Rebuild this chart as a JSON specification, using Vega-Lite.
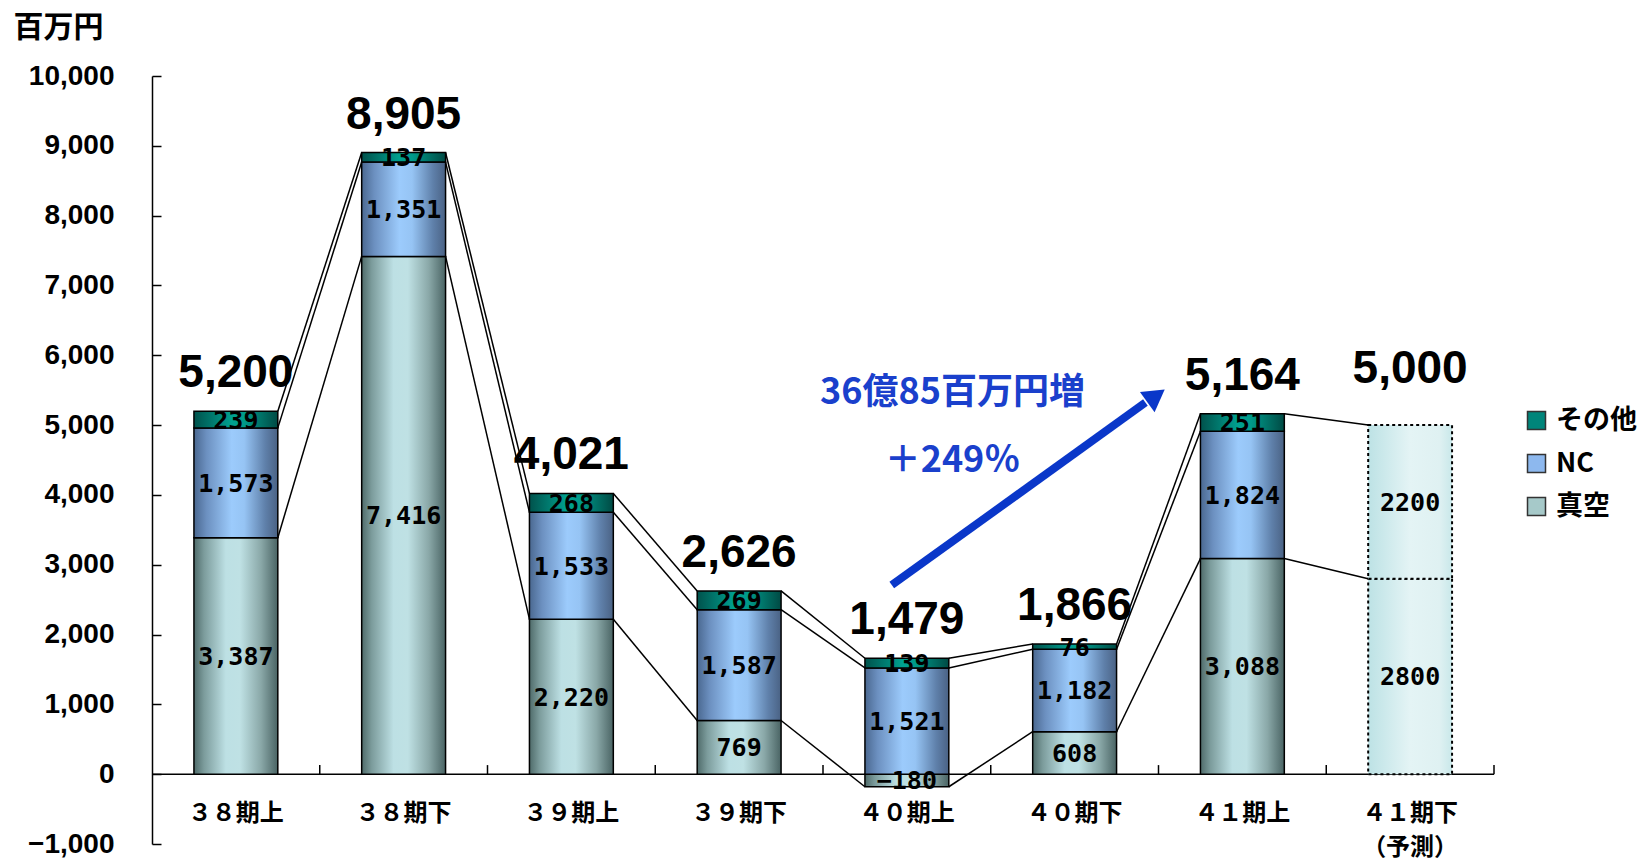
{
  "$schema": "https://vega.github.io/schema/vega-lite/v6.json",
  "width": 1342,
  "height": 768,
  "autosize": {"type": "none"},
  "padding": {"left": 152, "top": 76, "right": 158, "bottom": 19},
  "background": "white",
  "config": {
    "view": {"stroke": null},
    "axis": {"grid": false}
  },
  "datasets": {
    "bars": [
      {"period": "３８期上", "series": "真空", "value": 3387, "order": 1},
      {"period": "３８期上", "series": "NC", "value": 1573, "order": 2},
      {"period": "３８期上", "series": "その他", "value": 239, "order": 3},
      {"period": "３８期下", "series": "真空", "value": 7416, "order": 1},
      {"period": "３８期下", "series": "NC", "value": 1351, "order": 2},
      {"period": "３８期下", "series": "その他", "value": 137, "order": 3},
      {"period": "３９期上", "series": "真空", "value": 2220, "order": 1},
      {"period": "３９期上", "series": "NC", "value": 1533, "order": 2},
      {"period": "３９期上", "series": "その他", "value": 268, "order": 3},
      {"period": "３９期下", "series": "真空", "value": 769, "order": 1},
      {"period": "３９期下", "series": "NC", "value": 1587, "order": 2},
      {"period": "３９期下", "series": "その他", "value": 269, "order": 3},
      {"period": "４０期上", "series": "真空", "value": -180, "order": 1},
      {"period": "４０期上", "series": "NC", "value": 1521, "order": 2},
      {"period": "４０期上", "series": "その他", "value": 139, "order": 3},
      {"period": "４０期下", "series": "真空", "value": 608, "order": 1},
      {"period": "４０期下", "series": "NC", "value": 1182, "order": 2},
      {"period": "４０期下", "series": "その他", "value": 76, "order": 3},
      {"period": "４１期上", "series": "真空", "value": 3088, "order": 1},
      {"period": "４１期上", "series": "NC", "value": 1824, "order": 2},
      {"period": "４１期上", "series": "その他", "value": 251, "order": 3}
    ],
    "forecast": [
      {"period": "４１期下（予測）", "part": "真空予測", "value": 2800, "order": 1},
      {"period": "４１期下（予測）", "part": "NC他予測", "value": 2200, "order": 2}
    ],
    "totals": [
      {"period": "３８期上", "total": 5200},
      {"period": "３８期下", "total": 8905},
      {"period": "３９期上", "total": 4021},
      {"period": "３９期下", "total": 2626},
      {"period": "４０期上", "total": 1479},
      {"period": "４０期下", "total": 1866},
      {"period": "４１期上", "total": 5164}
    ],
    "links": [
      {"from": "３８期上", "to": "３８期下", "a": 3387, "b": 7416},
      {"from": "３８期上", "to": "３８期下", "a": 4960, "b": 8767},
      {"from": "３８期上", "to": "３８期下", "a": 5199, "b": 8904},
      {"from": "３８期下", "to": "３９期上", "a": 7416, "b": 2220},
      {"from": "３８期下", "to": "３９期上", "a": 8767, "b": 3753},
      {"from": "３８期下", "to": "３９期上", "a": 8904, "b": 4021},
      {"from": "３９期上", "to": "３９期下", "a": 2220, "b": 769},
      {"from": "３９期上", "to": "３９期下", "a": 3753, "b": 2356},
      {"from": "３９期上", "to": "３９期下", "a": 4021, "b": 2625},
      {"from": "３９期下", "to": "４０期上", "a": 769, "b": -180},
      {"from": "３９期下", "to": "４０期上", "a": 2356, "b": 1521},
      {"from": "３９期下", "to": "４０期上", "a": 2625, "b": 1660},
      {"from": "４０期上", "to": "４０期下", "a": -180, "b": 608},
      {"from": "４０期上", "to": "４０期下", "a": 1521, "b": 1790},
      {"from": "４０期上", "to": "４０期下", "a": 1660, "b": 1866},
      {"from": "４０期下", "to": "４１期上", "a": 608, "b": 3088},
      {"from": "４０期下", "to": "４１期上", "a": 1790, "b": 4912},
      {"from": "４０期下", "to": "４１期上", "a": 1866, "b": 5163},
      {"from": "４１期上", "to": "４１期下（予測）", "a": 3088, "b": 2800},
      {"from": "４１期上", "to": "４１期下（予測）", "a": 5163, "b": 5000}
    ],
    "cats": [
      {"period": "３８期上"}, {"period": "３８期下"}, {"period": "３９期上"}, {"period": "３９期下"},
      {"period": "４０期上"}, {"period": "４０期下"}, {"period": "４１期上"}, {"period": "４１期下（予測）"}
    ]
  },
  "layer": [
    {
      "data": {"name": "bars"},
      "mark": {"type": "bar"},
      "encoding": {
        "x": {
          "field": "period", "type": "nominal",
          "scale": {
            "domain": ["３８期上", "３８期下", "３９期上", "３９期下", "４０期上", "４０期下", "４１期上", "４１期下（予測）"],
            "paddingInner": 0.5, "paddingOuter": 0.25
          },
          "axis": {
            "title": null, "orient": "bottom", "offset": -70, "domain": false, "ticks": false,
            "labelAngle": 0, "labelFont": "Noto Sans CJK JP", "labelFontWeight": "bold", "labelFontSize": 24,
            "labelColor": "black", "labelPadding": 27, "labelLineHeight": 34,
            "labelExpr": "datum.value == '４１期下（予測）' ? ['４１期下', '（予測）'] : datum.label"
          }
        },
        "y": {
          "field": "value", "type": "quantitative", "stack": "zero",
          "scale": {"domain": [-1000, 10000], "nice": false, "zero": false},
          "axis": {
            "title": "百万円", "titleAngle": 0, "titleAlign": "left", "titleBaseline": "middle",
            "titleX": -139, "titleY": -49, "titleFont": "Noto Sans CJK JP", "titleFontSize": 30,
            "titleFontWeight": "bold", "titleColor": "black",
            "values": [-1000, 0, 1000, 2000, 3000, 4000, 5000, 6000, 7000, 8000, 9000, 10000],
            "labelExpr": "format(datum.value, ',')",
            "labelFont": "Liberation Sans", "labelFontSize": 28, "labelFontWeight": "bold",
            "labelColor": "black", "labelPadding": 47, "tickSize": -9, "tickColor": "black", "tickWidth": 1.5,
            "domainColor": "black", "domainWidth": 1.5
          }
        },
        "order": {"field": "order"},
        "color": {
          "field": "series", "type": "nominal",
          "scale": {"domain": ["その他", "NC", "真空"], "range": ["#00857a", "#8db8ee", "#a6c9c9"]},
          "legend": {
            "title": null, "orient": "none", "legendX": 1371, "legendY": 331, "padding": 0,
            "symbolType": "square", "symbolSize": 324, "symbolStrokeColor": "#333333", "symbolStrokeWidth": 1.5,
            "labelFont": "Noto Sans CJK JP", "labelFontSize": 27, "labelFontWeight": "bold", "labelColor": "black",
            "labelOffset": 6, "rowPadding": 15
          }
        }
      }
    },
    {
      "data": {"name": "links"},
      "mark": {"type": "rule", "color": "black", "strokeWidth": 1.5},
      "encoding": {
        "x": {"field": "from", "type": "nominal", "bandPosition": 1},
        "x2": {"field": "to", "bandPosition": 0},
        "y": {"field": "a", "type": "quantitative"},
        "y2": {"field": "b"}
      }
    },
    {
      "data": {"values": [{"z": 0}]},
      "mark": {"type": "rule", "color": "black", "strokeWidth": 1.5},
      "encoding": {"y": {"field": "z", "type": "quantitative"}}
    },
    {
      "data": {"name": "bars"},
      "mark": {"type": "bar", "stroke": "black", "strokeWidth": 1.5},
      "encoding": {
        "x": {"field": "period", "type": "nominal"},
        "y": {"field": "value", "type": "quantitative", "stack": "zero"},
        "order": {"field": "order"},
        "fill": {
          "condition": [
            {"test": "datum.series === '真空'", "value": {"gradient": "linear", "x1": 0, "x2": 1, "y1": 0, "y2": 0,
              "stops": [{"offset": 0, "color": "#4f6b6a"}, {"offset": 0.12, "color": "#7c9c9c"}, {"offset": 0.38, "color": "#bde0e4"}, {"offset": 0.55, "color": "#bfe1e4"}, {"offset": 0.8, "color": "#8aa8a8"}, {"offset": 1, "color": "#4a6464"}]}},
            {"test": "datum.series === 'NC'", "value": {"gradient": "linear", "x1": 0, "x2": 1, "y1": 0, "y2": 0,
              "stops": [{"offset": 0, "color": "#4a6890"}, {"offset": 0.15, "color": "#6c90c0"}, {"offset": 0.45, "color": "#9ccbfc"}, {"offset": 0.6, "color": "#96c4f4"}, {"offset": 0.85, "color": "#5f80aa"}, {"offset": 1, "color": "#4a6284"}]}}
          ],
          "value": {"gradient": "linear", "x1": 0, "x2": 1, "y1": 0, "y2": 0,
            "stops": [{"offset": 0, "color": "#00524c"}, {"offset": 0.45, "color": "#00a190"}, {"offset": 0.6, "color": "#009a8a"}, {"offset": 1, "color": "#004a44"}]}
        }
      }
    },
    {
      "data": {"name": "forecast"},
      "mark": {"type": "bar", "stroke": "black", "strokeWidth": 2, "strokeDash": [3, 3],
        "fill": {"gradient": "linear", "x1": 0, "x2": 1, "y1": 0, "y2": 0,
          "stops": [{"offset": 0, "color": "#bde2e5"}, {"offset": 0.5, "color": "#e4f4f5"}, {"offset": 0.85, "color": "#dff1f2"}, {"offset": 1, "color": "#c9e8ea"}]}},
      "encoding": {
        "x": {"field": "period", "type": "nominal"},
        "y": {"field": "value", "type": "quantitative", "stack": "zero"},
        "order": {"field": "order"}
      }
    },
    {
      "data": {"name": "cats"},
      "mark": {"type": "rule", "color": "black", "strokeWidth": 1.5},
      "encoding": {
        "x": {"field": "period", "type": "nominal", "bandPosition": 1.5},
        "y": {"datum": 0, "type": "quantitative"},
        "y2": {"datum": 130}
      }
    },
    {
      "data": {"name": "bars"},
      "mark": {"type": "text", "font": "DejaVu Sans Mono", "fontWeight": "bold", "fontSize": 25, "color": "black", "baseline": "middle", "dy": 1},
      "encoding": {
        "x": {"field": "period", "type": "nominal"},
        "y": {"field": "value", "type": "quantitative", "stack": "zero", "bandPosition": 0.5},
        "order": {"field": "order"},
        "text": {"field": "value", "type": "quantitative", "format": ","}
      }
    },
    {
      "data": {"name": "forecast"},
      "mark": {"type": "text", "font": "DejaVu Sans Mono", "fontWeight": "bold", "fontSize": 25, "color": "black", "baseline": "middle", "dy": 1},
      "encoding": {
        "x": {"field": "period", "type": "nominal"},
        "y": {"field": "value", "type": "quantitative", "stack": "zero", "bandPosition": 0.5},
        "order": {"field": "order"},
        "text": {"field": "value", "type": "quantitative", "format": "d"}
      }
    },
    {
      "data": {"name": "bars"},
      "transform": [
        {"filter": "datum.value > 0"},
        {"aggregate": [{"op": "sum", "field": "value", "as": "top"}], "groupby": ["period"]},
        {"lookup": "period", "from": {"data": {"name": "totals"}, "key": "period", "fields": ["total"]}}
      ],
      "mark": {"type": "text", "font": "Liberation Sans", "fontWeight": "bold", "fontSize": 46, "color": "black", "baseline": "alphabetic", "dy": -24},
      "encoding": {
        "x": {"field": "period", "type": "nominal"},
        "y": {"field": "top", "type": "quantitative"},
        "text": {"field": "total", "type": "quantitative", "format": ","}
      }
    },
    {
      "data": {"name": "forecast"},
      "mark": {"type": "text", "font": "Liberation Sans", "fontWeight": "bold", "fontSize": 46, "color": "black", "baseline": "alphabetic", "dy": -42},
      "encoding": {
        "x": {"field": "period", "type": "nominal"},
        "y": {"aggregate": "sum", "field": "value", "type": "quantitative"},
        "text": {"aggregate": "sum", "field": "value", "type": "quantitative", "format": ","}
      }
    },
    {
      "data": {"values": [{"x": "４０期上", "y": 2708, "x2": "４０期下", "y2": 5322}]},
      "mark": {"type": "rule", "color": "#0a37c9", "strokeWidth": 8, "strokeCap": "butt"},
      "encoding": {
        "x": {"field": "x", "type": "nominal", "bandPosition": 0.32},
        "x2": {"field": "x2", "bandPosition": 1.344},
        "y": {"field": "y", "type": "quantitative"},
        "y2": {"field": "y2"}
      }
    },
    {
      "data": {"values": [{"x": "４０期下", "y": 5420}]},
      "mark": {"type": "point", "shape": "triangle-up", "size": 620, "angle": 54, "filled": true, "color": "#0a37c9", "opacity": 1},
      "encoding": {
        "x": {"field": "x", "type": "nominal", "bandPosition": 1.47},
        "y": {"field": "y", "type": "quantitative"}
      }
    },
    {
      "data": {"values": [{"x": "４０期上", "y": 5458, "t": "36億85百万円増"}, {"x": "４０期上", "y": 4484, "t": "＋249％"}]},
      "mark": {"type": "text", "font": "Noto Sans CJK JP", "fontWeight": "bold", "fontSize": 36, "color": "#1a40cc", "baseline": "middle", "align": "center"},
      "encoding": {
        "x": {"field": "x", "type": "nominal", "bandPosition": 1.044},
        "y": {"field": "y", "type": "quantitative"},
        "text": {"field": "t"}
      }
    }
  ]
}
